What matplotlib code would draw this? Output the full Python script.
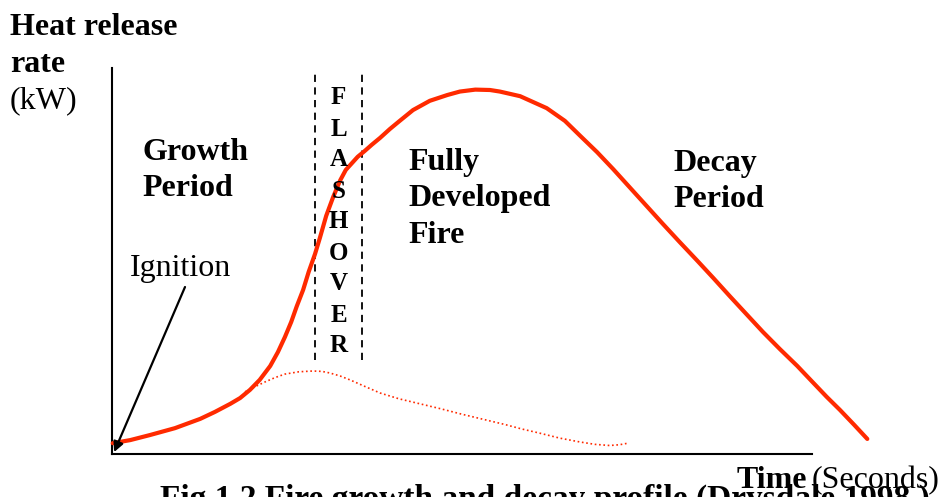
import matplotlib
matplotlib.use("Agg")
import matplotlib.pyplot as plt

# ---- data (arbitrary units) ----
hrr_time = [0.1, 2.6, 5.4, 9.0, 12.6, 14.7, 16.9, 18.3, 19.7, 21.1, 22.6, 23.7,
            24.7, 25.6, 26.4, 27.3, 28.1, 29.0, 29.7, 30.6, 31.6, 32.6, 33.4,
            34.3, 35.1, 36.1, 37.1, 38.3, 39.7, 41.1, 43.0, 45.4, 47.9, 49.7,
            51.9, 54.0, 55.4, 58.3, 62.1, 64.7, 66.9, 69.3, 71.6, 74.0, 76.4,
            78.7, 81.1, 83.6, 85.9, 88.3, 90.7, 93.0, 95.4, 97.9, 100.1, 102.1,
            104.0, 106.0, 107.9]
hrr_value = [2.8, 3.6, 4.9, 6.7, 9.1, 10.9, 13.0, 14.5, 16.6, 19.2, 22.8, 26.4,
             30.3, 34.2, 38.3, 42.5, 47.2, 51.8, 56.0, 61.7, 66.6, 70.9, 73.6,
             75.4, 77.0, 78.5, 80.1, 81.9, 84.2, 86.3, 89.1, 91.5, 93.0, 93.9,
             94.4, 94.3, 93.9, 92.7, 89.6, 86.3, 82.4, 78.2, 73.8, 69.0, 64.2,
             59.6, 54.9, 50.1, 45.6, 40.8, 36.1, 31.6, 27.2, 22.8, 18.6, 14.8,
             11.4, 7.6, 3.9]

noflash_time = [19.0, 20.5, 21.9, 23.3, 24.7, 26.7, 28.7, 30.0, 31.1, 32.6, 34.0,
                36.0, 38.3, 41.0, 44.0, 47.0, 50.0, 53.0, 56.0, 58.5, 61.1, 64.0,
                66.9, 69.0, 71.1, 72.5, 73.7]
noflash_value = [16.1, 17.5, 18.7, 19.8, 20.7, 21.3, 21.5, 21.4, 21.0, 20.2, 19.2,
                 17.6, 15.8, 14.3, 13.0, 11.7, 10.3, 9.0, 7.7, 6.5, 5.4, 4.1,
                 3.1, 2.5, 2.2, 2.4, 2.8]

flashover_bounds = [29.0, 35.7]
flashover_span = [24.4, 99.5]
flashover_letters = list("FLASHOVER")

W, H = 944, 497
fig = plt.figure(figsize=(W / 100, H / 100), dpi=100)
plt.rcParams['font.family'] = ['Liberation Serif', 'DejaVu Serif']

# axes: origin at pixel (112, 454)
ax = fig.add_axes([112 / W, (H - 454) / H, (W - 112) / W, 454 / H])
ax.set_xlim(0, (W - 112) / 7.0)
ax.set_ylim(0, 454 / 3.86)
ax.patch.set_alpha(0)
for s in ['top', 'right']:
    ax.spines[s].set_visible(False)
for s in ['left', 'bottom']:
    ax.spines[s].set_linewidth(1.5)
    ax.spines[s].set_bounds(0, 100)
ax.set_xticks([])
ax.set_yticks([])

red = '#FF2A00'
ax.plot(hrr_time, hrr_value, color=red, lw=3.0, solid_capstyle='round',
        solid_joinstyle='round', clip_on=False, zorder=3)
ax.plot(noflash_time, noflash_value, color=red, lw=1.2, linestyle=(0, (1, 1.6)),
        clip_on=False, zorder=2)

for xb in flashover_bounds:
    ax.plot([xb, xb], flashover_span, color='black', lw=1.3,
            linestyle=(0, (4, 3)), clip_on=False)

# FLASHOVER letters
xm = sum(flashover_bounds) / 2
for i, ch in enumerate(flashover_letters):
    ax.text(xm, (454 - (98 + i * 31)) / 3.86, ch, ha='center', va='center',
            fontsize=18, fontweight='bold')

# ignition arrow
ax.annotate('', xy=(0.3, 0.5), xytext=((185 - 112) / 7.0, (454 - 287) / 3.86),
            arrowprops=dict(arrowstyle='-|>', color='black', lw=1.6,
                            mutation_scale=15, shrinkA=0, shrinkB=0))

def P(x, y):
    return x / W, 1 - y / H

fs = 23
fig.text(*P(10, 35), 'Heat release', fontsize=fs, fontweight='bold', va='baseline')
fig.text(*P(10, 72), 'rate', fontsize=fs, fontweight='bold', va='baseline')
fig.text(*P(10, 108), '(kW)', fontsize=fs, va='baseline')

fig.text(*P(142, 160), 'Growth', fontsize=fs, fontweight='bold', va='baseline')
fig.text(*P(142, 196), 'Period', fontsize=fs, fontweight='bold', va='baseline')

fig.text(*P(408, 170), 'Fully', fontsize=fs, fontweight='bold', va='baseline')
fig.text(*P(408, 206), 'Developed', fontsize=fs, fontweight='bold', va='baseline')
fig.text(*P(408, 243), 'Fire', fontsize=fs, fontweight='bold', va='baseline')

fig.text(*P(673, 171), 'Decay', fontsize=fs, fontweight='bold', va='baseline')
fig.text(*P(673, 207), 'Period', fontsize=fs, fontweight='bold', va='baseline')

fig.text(*P(130, 276), 'Ignition', fontsize=fs, va='baseline')

fig.text(*P(160, 508), 'Fig 1.2 Fire growth and decay profile (Drysdale 1998 )',
         fontsize=24, fontweight='bold', va='baseline')
fig.text(*P(737, 488), 'Time', fontsize=fs, fontweight='bold', va='baseline')
fig.text(*P(812, 488), '(Seconds)', fontsize=fs, va='baseline')

fig.savefig('out.png', dpi=100)
